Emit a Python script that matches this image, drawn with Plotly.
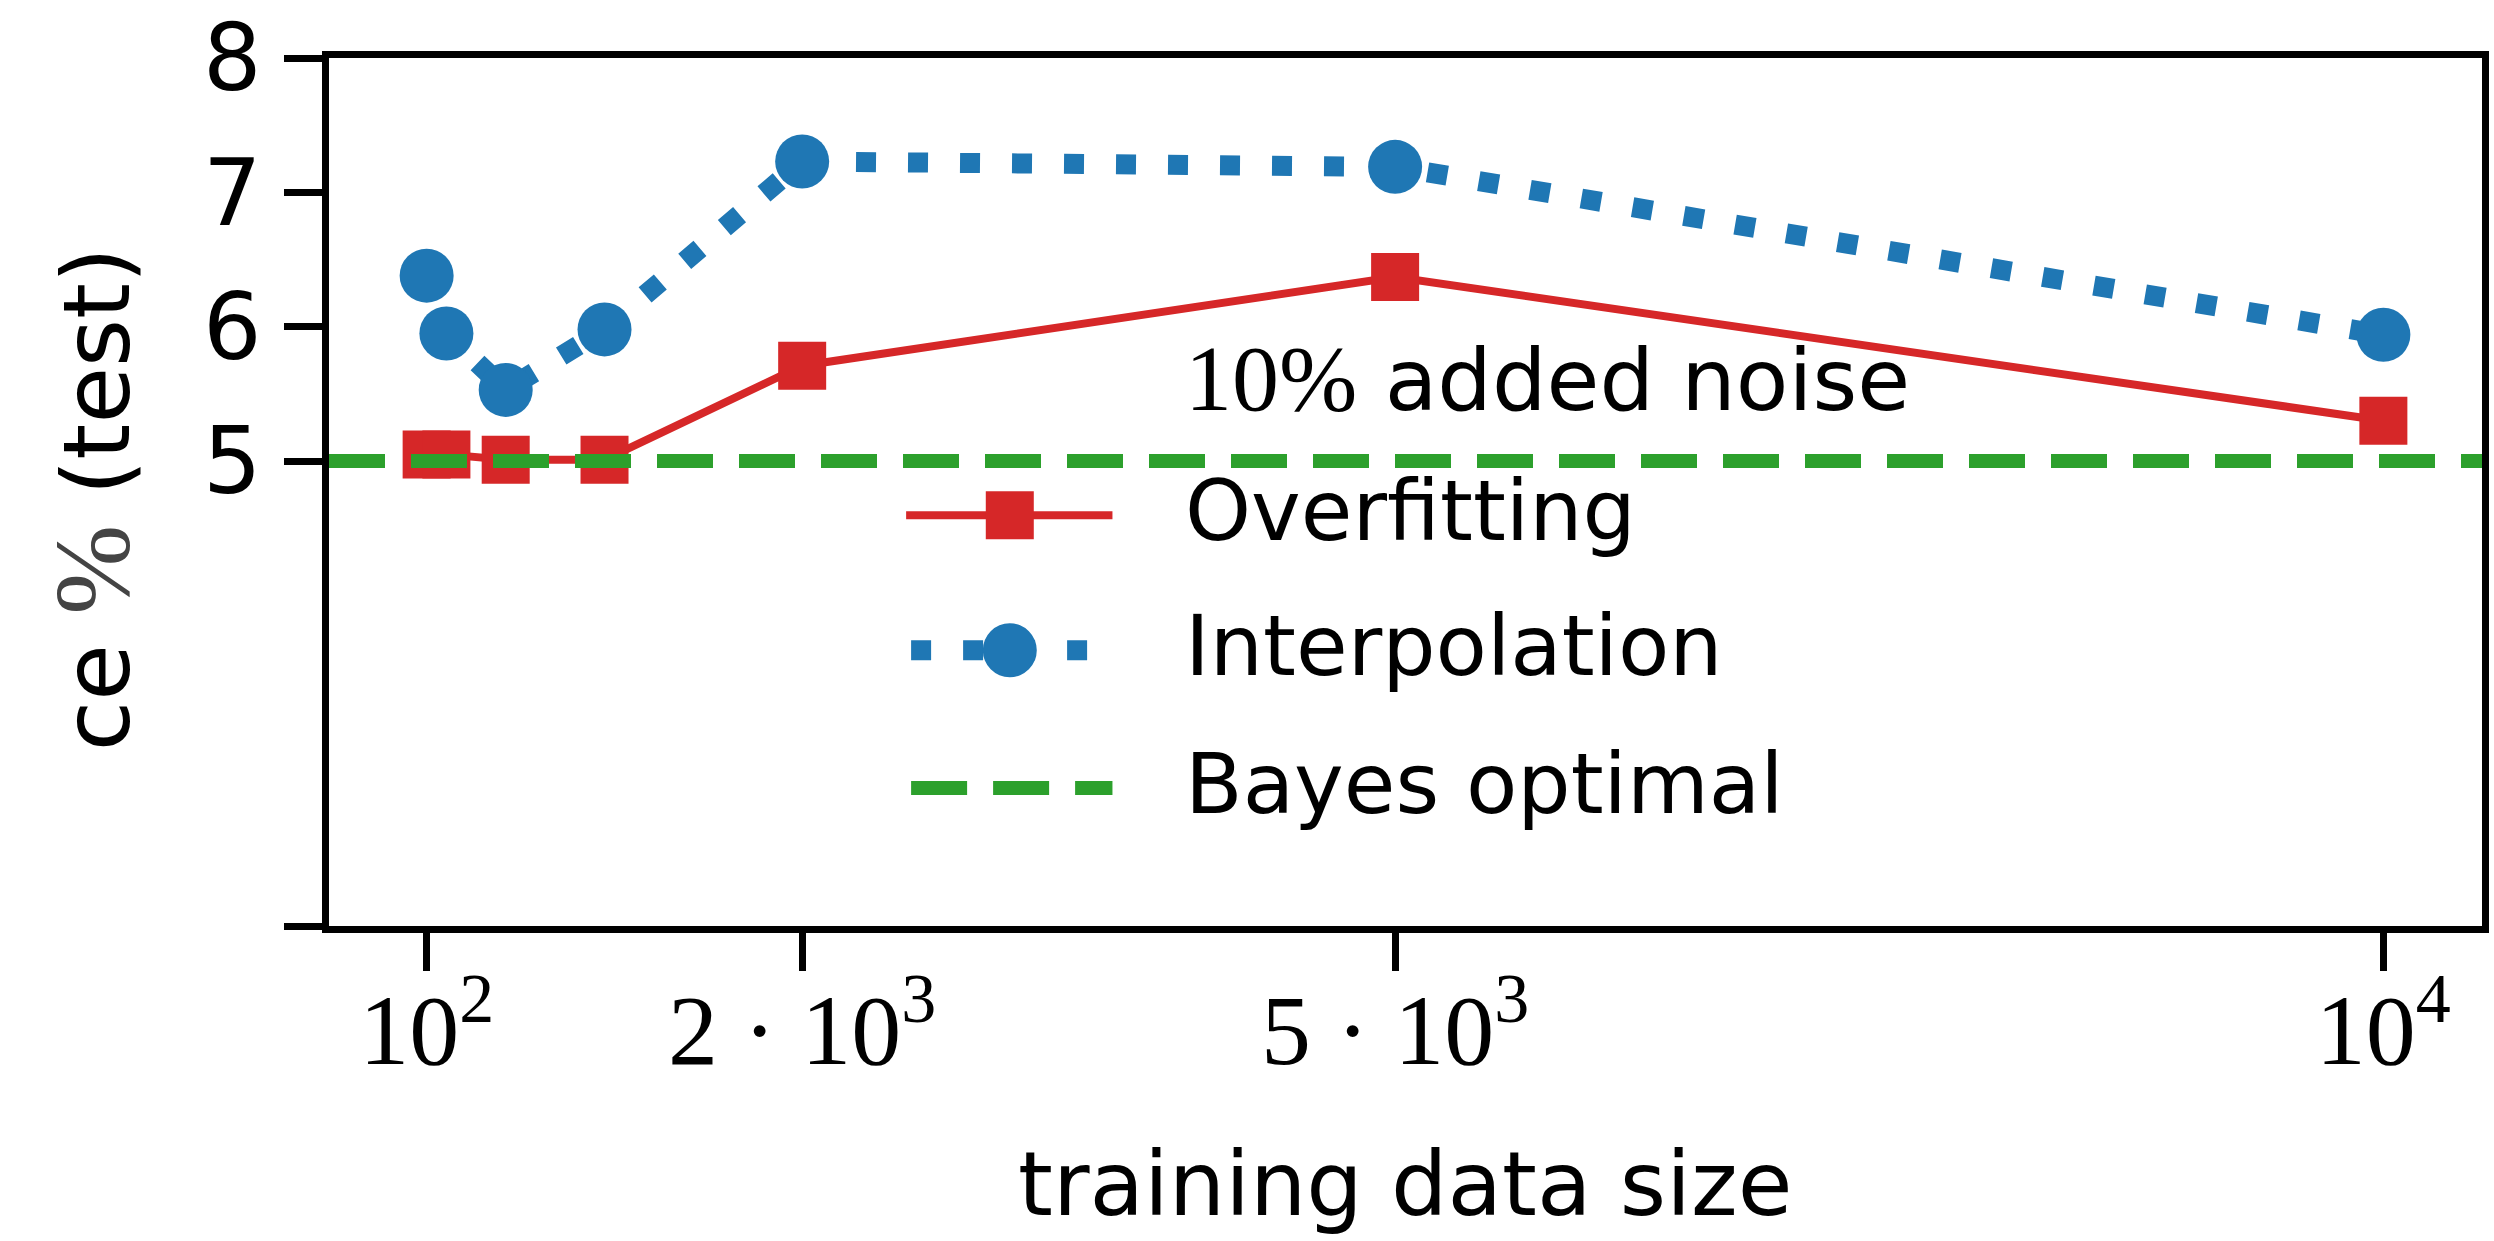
import plotly.graph_objects as go

# ---- data -------------------------------------------------------------
train_size = [100, 200, 500, 1000, 2000, 5000, 10000]
overfitting = [5.05, 5.05, 5.01, 5.01, 5.71, 6.37, 5.30]
interpolation = [6.38, 5.95, 5.53, 5.98, 7.23, 7.19, 5.94]
bayes_optimal = 5.0

x_tickvals = [100, 2000, 5000, 10000]
x_ticktext = ["10<sup>2</sup>", "2 · 10<sup>3</sup>", "5 · 10<sup>3</sup>", "10<sup>4</sup>"]
y_min, y_max = 1.54, 8.0
y_tickvals = [y_min, 5, 6, 7, 8]
y_ticktext = ["", "5", "6", "7", "8"]

legend_title = '<span style="font-family:Liberation Serif;font-size:94px">10%</span> added noise'
legend_labels = ["Overfitting", "Interpolation", "Bayes optimal"]

# ---- styling ----------------------------------------------------------
RED, BLUE, GREEN = "#d62728", "#1f77b4", "#2ca02c"
W, H = 2494, 1241
L, R, T, B = 329, 5, 51, 315
PW, PH = W - L - R, H - T - B
SANS = "DejaVu Sans"
SERIF = "Liberation Serif"


def px(xp):
    return (xp - L) / PW


def py(yp):
    return (T + PH - yp) / PH


fig = go.Figure()

fig.add_trace(go.Scatter(
    x=train_size, y=overfitting, mode="lines+markers", name=legend_labels[0],
    line=dict(color=RED, width=8),
    marker=dict(symbol="square", size=48, color=RED, line=dict(width=0)),
))
fig.add_trace(go.Scatter(
    x=train_size, y=interpolation, mode="lines+markers", name=legend_labels[1],
    line=dict(color=BLUE, width=20, dash="20px,32px"),
    marker=dict(symbol="circle", size=54, color=BLUE, line=dict(width=0)),
))

shapes = [
    # Bayes optimal horizontal reference
    dict(type="line", xref="paper", yref="y", x0=0, x1=1, y0=bayes_optimal, y1=bayes_optimal,
         line=dict(color=GREEN, width=14, dash="56px,26px"), layer="above"),
]

# ---- legend (drawn by hand so the samples keep their full size) -------
row_y = [512, 648, 787]
sample_x0, sample_x1, sample_mid = 908, 1115, 1012
shapes += [
    dict(type="line", xref="paper", yref="paper", x0=px(sample_x0), x1=px(sample_x1),
         y0=py(row_y[0]), y1=py(row_y[0]), line=dict(color=RED, width=8)),
    dict(type="rect", xref="paper", yref="paper", xsizemode="pixel", ysizemode="pixel",
         xanchor=px(sample_mid), yanchor=py(row_y[0]), x0=-24, x1=24, y0=-24, y1=24,
         fillcolor=RED, line=dict(width=0)),
    dict(type="line", xref="paper", yref="paper", x0=px(913), x1=px(sample_x1),
         y0=py(row_y[1]), y1=py(row_y[1]), line=dict(color=BLUE, width=20, dash="20px,32px")),
    dict(type="circle", xref="paper", yref="paper", xsizemode="pixel", ysizemode="pixel",
         xanchor=px(sample_mid), yanchor=py(row_y[1]), x0=-27, x1=27, y0=-27, y1=27,
         fillcolor=BLUE, line=dict(width=0)),
    dict(type="line", xref="paper", yref="paper", x0=px(913), x1=px(sample_x1),
         y0=py(row_y[2]), y1=py(row_y[2]), line=dict(color=GREEN, width=14, dash="56px,26px")),
]

annotations = [
    dict(text=legend_title, xref="paper", yref="paper", x=px(1186), y=py(374),
         xanchor="left", yanchor="middle", showarrow=False,
         font=dict(family=SANS, size=86, color="black")),
]
for label, yy in zip(legend_labels, row_y):
    annotations.append(dict(text=label, xref="paper", yref="paper", x=px(1186), y=py(yy - 4),
                            xanchor="left", yanchor="middle", showarrow=False,
                            font=dict(family=SANS, size=84, color="black")))

# axis titles
annotations.append(dict(text="training data size", xref="paper", yref="paper",
                        x=px(1408), y=py(1186), xanchor="center", yanchor="middle",
                        showarrow=False, font=dict(family=SANS, size=89, color="black")))
annotations.append(dict(text='ce <span style="font-family:Liberation Serif;font-size:108px;color:#444444">%</span> (test)',
                        xref="paper", yref="paper", x=px(92), y=py(496),
                        xanchor="center", yanchor="middle", textangle=-90,
                        showarrow=False, font=dict(family=SANS, size=92, color="black")))

axis_common = dict(showline=True, linecolor="black", linewidth=7, mirror=True,
                   ticks="outside", ticklen=38, tickwidth=7, tickcolor="black",
                   showgrid=False, zeroline=False, ticklabeloverflow="allow")

fig.update_layout(
    width=W, height=H,
    margin=dict(l=L, r=R, t=T, b=B, pad=0),
    paper_bgcolor="white", plot_bgcolor="white",
    showlegend=False,
    shapes=shapes, annotations=annotations,
    xaxis=dict(range=[-394, 10499], tickmode="array", tickvals=x_tickvals, ticktext=x_ticktext,
               tickfont=dict(family=SERIF, size=100, color="black"), ticklabelstandoff=-27,
               **axis_common),
    yaxis=dict(range=[y_min, y_max], tickmode="array", tickvals=y_tickvals, ticktext=y_ticktext,
               tickfont=dict(family=SANS, size=92, color="black"), ticklabelstandoff=4,
               **axis_common),
)

fig.write_html("out.html")
